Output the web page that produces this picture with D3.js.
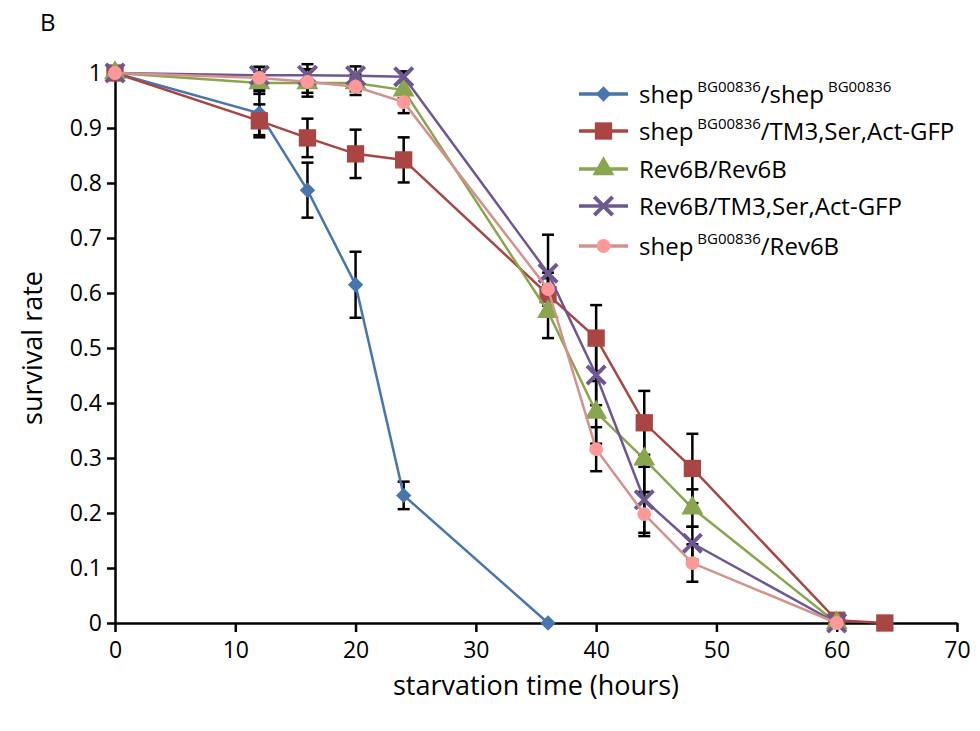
<!DOCTYPE html>
<html lang="en">
<head>
    <meta charset="UTF-8">
    <title>Survival under starvation</title>
    <script src="https://d3js.org/d3.v7.min.js"></script>
    <style>
        body { margin: 0; background: #fff; }
        text { font-family: "Open Sans", "Noto Sans", sans-serif; fill: #000; }
    </style>
</head>
<body>
<script>
    // starvation time (hours) per genotype
    const timesShort = [0, 12, 16, 20, 24, 36];
    const timesLong = [0, 12, 16, 20, 24, 36, 40, 44, 48, 60];
    const timesRed = [0, 12, 16, 20, 24, 36, 40, 44, 48, 60, 64];

    // survival rate
    const shepShep = [1, 0.927, 0.787, 0.615, 0.232, 0];
    const shepTM3 = [1, 0.913, 0.882, 0.853, 0.842, 0.597, 0.518, 0.364, 0.281, 0.005, 0];
    const revRev = [1, 0.982, 0.982, 0.982, 0.969, 0.566, 0.383, 0.298, 0.209, 0];
    const revTM3 = [1, 0.996, 0.996, 0.995, 0.993, 0.636, 0.451, 0.224, 0.145, 0];
    const shepRev = [1, 0.991, 0.984, 0.975, 0.947, 0.607, 0.316, 0.198, 0.109, 0];

    // error bar half-widths
    const errShepShep = [0, 0.04, 0.05, 0.06, 0.025, 0];
    const errShepTM3 = [0, 0.03, 0.035, 0.044, 0.041, 0.03, 0.06, 0.058, 0.063, 0, 0];
    const errRevRev = [0, 0.02, 0.025, 0.015, 0.015, 0.048, 0.057, 0.06, 0.034, 0];
    const errRevTM3 = [0, 0.015, 0.02, 0.017, 0.01, 0.07, 0.055, 0.06, 0.03, 0];
    const errShepRev = [0, 0.02, 0.02, 0.015, 0.02, 0.03, 0.04, 0.04, 0.034, 0];

    const xTicks = [0, 10, 20, 30, 40, 50, 60, 70];
    const yTicks = [0, 0.1, 0.2, 0.3, 0.4, 0.5, 0.6, 0.7, 0.8, 0.9, 1];

    const series = [
        { label: [["shep", ""], ["BG00836", "sup"], ["/shep", ""], ["BG00836", "sup"]],
          t: timesShort, v: shepShep, e: errShepShep, line: "#4676ad", fill: "#4676ad", marker: "diamond" },
        { label: [["shep", ""], ["BG00836", "sup"], ["/TM3,Ser,Act-GFP", ""]],
          t: timesRed, v: shepTM3, e: errShepTM3, line: "#a94643", fill: "#a94643", marker: "square" },
        { label: [["Rev6B/Rev6B", ""]],
          t: timesLong, v: revRev, e: errRevRev, line: "#89a54e", fill: "#89a54e", marker: "triangle" },
        { label: [["Rev6B/TM3,Ser,Act-GFP", ""]],
          t: timesLong, v: revTM3, e: errRevTM3, line: "#6f5892", fill: "#6f5892", marker: "x" },
        { label: [["shep", ""], ["BG00836", "sup"], ["/Rev6B", ""]],
          t: timesLong, v: shepRev, e: errShepRev, line: "#d4928f", fill: "#ff9999", marker: "circle" }
    ];

    const width = 980, height = 731;
    const svg = d3.select("body").append("svg")
        .attr("width", width)
        .attr("height", height);

    const x = d3.scaleLinear().domain([0, 70]).range([115, 957]);
    const y = d3.scaleLinear().domain([0, 1]).range([623, 73]);

    // axes
    const xAxis = svg.append("g")
        .attr("transform", `translate(0,${y(0)})`)
        .call(d3.axisBottom(x).tickValues(xTicks).tickFormat(d3.format("d")).tickSize(9).tickSizeOuter(0));
    const yAxis = svg.append("g")
        .attr("transform", `translate(${x(0)},0)`)
        .call(d3.axisLeft(y).tickValues(yTicks).tickFormat(d => d === 0 || d === 1 ? d : d3.format(".1f")(d)).tickSize(8).tickSizeOuter(0));

    [xAxis, yAxis].forEach(g => {
        g.select(".domain").attr("stroke", "#000").attr("stroke-width", 2.5);
        g.selectAll(".tick line").attr("stroke", "#000").attr("stroke-width", 2.5);
        g.selectAll(".tick text").style("font-size", "23px").attr("fill", "#000");
    });
    xAxis.selectAll(".tick text").attr("dy", "1.0em");
    yAxis.selectAll(".tick text").attr("x", -13);

    svg.append("text")
        .attr("x", 536).attr("y", 695)
        .attr("text-anchor", "middle")
        .style("font-size", "27px")
        .text("starvation time (hours)");

    svg.append("text")
        .attr("transform", `translate(42,${y(0.5)}) rotate(-90)`)
        .attr("text-anchor", "middle")
        .style("font-size", "27px")
        .text("survival rate");

    svg.append("text")
        .attr("x", 40).attr("y", 31)
        .style("font-size", "24px")
        .text("B");

    // error bars (under everything)
    const errG = svg.append("g");
    series.forEach(s => {
        s.t.forEach((t, i) => {
            const e = s.e[i];
            if (!e) return;
            const cx = x(t), y1 = y(s.v[i] + e), y2 = y(s.v[i] - e);
            errG.append("line").attr("x1", cx).attr("x2", cx).attr("y1", y1).attr("y2", y2)
                .attr("stroke", "#000").attr("stroke-width", 2.5);
            [y1, y2].forEach(yy => errG.append("line")
                .attr("x1", cx - 6).attr("x2", cx + 6).attr("y1", yy).attr("y2", yy)
                .attr("stroke", "#000").attr("stroke-width", 2.5));
        });
    });

    const symbols = {
        diamond: d3.symbol().type(d3.symbolDiamond2).size(150),
        square: d3.symbol().type(d3.symbolSquare).size(300),
        triangle: d3.symbol().type(d3.symbolTriangle).size(210),
        circle: d3.symbol().type(d3.symbolCircle).size(150),
        x: d3.symbol().type(d3.symbolX).size(220)
    };

    function drawMarker(g, s, cx, cy) {
        const p = g.append("path")
            .attr("d", symbols[s.marker]())
            .attr("transform", `translate(${cx},${cy})`);
        if (s.marker === "x") {
            p.attr("fill", "none").attr("stroke", s.fill).attr("stroke-width", 4);
        } else {
            p.attr("fill", s.fill);
        }
    }

    const line = d3.line().x(d => x(d[0])).y(d => y(d[1]));

    series.forEach(s => {
        const g = svg.append("g");
        const pts = s.t.map((t, i) => [t, s.v[i]]);
        g.append("path")
            .attr("d", line(pts))
            .attr("fill", "none")
            .attr("stroke", s.line)
            .attr("stroke-width", 2.5);
        pts.forEach(p => drawMarker(g, s, x(p[0]), y(p[1])));
    });

    // legend
    const legend = svg.append("g");
    const rowY = [94, 131, 169, 206, 246];
    series.forEach((s, i) => {
        const ly = rowY[i];
        legend.append("line")
            .attr("x1", 579).attr("x2", 628).attr("y1", ly).attr("y2", ly)
            .attr("stroke", s.line).attr("stroke-width", 3.5);
        drawMarker(legend, s, 603.5, ly);
        const txt = legend.append("text")
            .attr("x", 639).attr("y", ly + 9)
            .style("font-size", "24px");
        s.label.forEach(([str, kind]) => {
            if (kind === "sup") {
                txt.append("tspan").attr("dy", -11).attr("dx", 4).style("font-size", "15px").text(str);
            } else {
                const ts = txt.append("tspan").text(str);
                if (txt.selectAll("tspan").size() > 1) ts.attr("dy", 11);
            }
        });
    });
</script>
</body>
</html>
